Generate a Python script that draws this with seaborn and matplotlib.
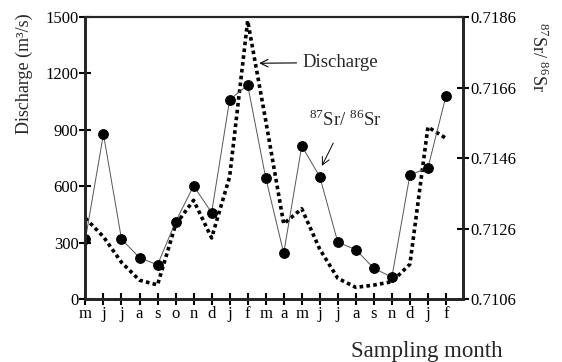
# -*- coding: utf-8 -*-
"""
Discharge and 87Sr/86Sr by sampling month
"""

import pandas as pd
import matplotlib
matplotlib.use("Agg")
import matplotlib.pyplot as plt
import seaborn as sns

# sampling months (two years, second year has no "o")
months = ['m', 'j', 'j', 'a', 's', 'o', 'n', 'd', 'j', 'f',
          'm', 'a', 'm', 'j', 'j', 'a', 's', 'n', 'd', 'j', 'f']

# discharge (m3/s)
discharge = [430, 331, 195, 100, 75, 395, 525, 325, 650, 1480,
             950, 400, 480, 265, 110, 62, 74, 92, 185, 915, 855]

# 87Sr/86Sr ratio
sr_ratio = [0.71230, 0.71528, 0.71230, 0.71177, 0.71157, 0.71279, 0.71381,
            0.71305, 0.71625, 0.71667, 0.71404, 0.71190, 0.71494, 0.71407,
            0.71221, 0.71200, 0.71147, 0.71122, 0.71412, 0.71432, 0.71636]

discharge_ticks = [0, 300, 600, 900, 1200, 1500]
sr_ticks = [0.7106, 0.7126, 0.7146, 0.7166, 0.7186]


def style_axis(ax):
    """粗轴线 + 穿轴刻度"""
    ax.tick_params(direction='inout', length=8, width=1.5, labelsize=12,
                   pad=1, colors='black')


def main():
    sns.set_style("ticks")
    plt.rcParams['font.family'] = ['Liberation Serif', 'DejaVu Serif']
    plt.rcParams['mathtext.fontset'] = 'custom'
    plt.rcParams['mathtext.rm'] = 'Liberation Serif'

    df = pd.DataFrame({
        'idx': range(len(months)),
        'discharge': discharge,
        'sr': sr_ratio,
    })

    fig = plt.figure(figsize=(5.62, 3.62), dpi=100)
    ax = fig.add_axes([0.152, 0.174, 0.672, 0.779])

    # discharge: dotted line
    sns.lineplot(data=df, x='idx', y='discharge', ax=ax, color='black',
                 linewidth=2.6, linestyle=(0, (1, 0.9)), legend=False)

    ax.set_xlim(0, 20.95)
    ax.set_ylim(0, 1500)
    ax.set_yticks(discharge_ticks)
    ax.set_xticks(range(len(months)))
    ax.set_xticklabels(months, fontsize=12)
    ax.set_xlabel('')
    ax.set_ylabel('Discharge (m³/s)', fontsize=13)
    ax.yaxis.set_label_coords(-0.14, 0.80)
    style_axis(ax)

    # Sr ratio on the right axis
    ax2 = ax.twinx()
    sns.lineplot(data=df, x='idx', y='sr', ax=ax2, color='#555555',
                 linewidth=0.7, marker='o', markersize=7,
                 markerfacecolor='black', markeredgecolor='black',
                 legend=False)
    ax2.set_ylim(0.7106, 0.7186)
    ax2.set_yticks(sr_ticks)
    ax2.set_yticklabels([f'{t:.4f}' for t in sr_ticks])
    ax2.set_xlim(0, 20.95)
    ax2.set_ylabel(r'$^{87}$Sr/ $^{86}$Sr', fontsize=13, rotation=270)
    ax2.yaxis.set_label_coords(1.225, 0.86)
    style_axis(ax2)

    for a in (ax, ax2):
        for side in ('left', 'bottom', 'right'):
            a.spines[side].set_visible(True)
            a.spines[side].set_linewidth(2)
        a.spines['top'].set_visible(True)
        a.spines['top'].set_linewidth(1.5)

    # annotations
    ax.annotate('Discharge', xy=(9.49, 1254), xytext=(12.05, 1258),
                fontsize=13.5, va='center', ha='left',
                arrowprops=dict(arrowstyle='->', color='black', lw=0.8))
    ax.annotate(r'$^{87}$Sr/ $^{86}$Sr', xy=(13.05, 695), xytext=(14.4, 955),
                fontsize=13.5, va='center', ha='center',
                arrowprops=dict(arrowstyle='->', color='black', lw=0.7,
                                shrinkA=8))

    fig.text(0.759, 0.028, 'Sampling month', fontsize=16.5, ha='center',
             va='center')

    fig.savefig('out.png', dpi=100)
    plt.close(fig)


if __name__ == "__main__":
    main()
